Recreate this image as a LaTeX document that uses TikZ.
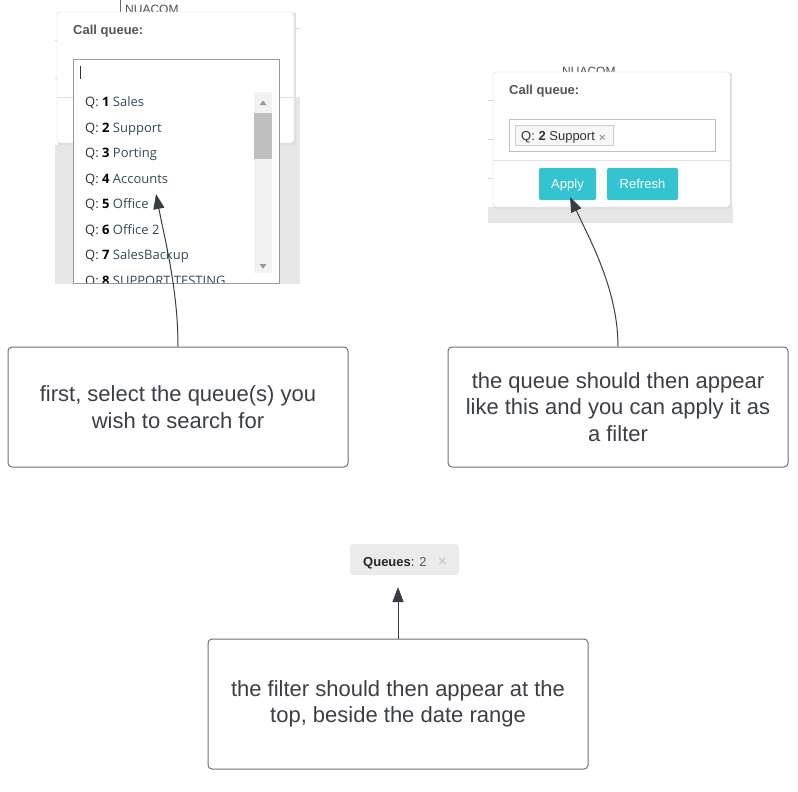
\documentclass[tikz,border=0pt]{standalone}
\usepackage{fontspec}
\setmainfont{Liberation Sans}
\newfontfamily\listfont{Open Sans}
\usetikzlibrary{arrows.meta}
\definecolor{textgrey}{HTML}{3A3F47}
\definecolor{boxline}{HTML}{6B6F75}
\definecolor{arrowgrey}{HTML}{373C46}
\definecolor{shotgrey}{HTML}{E6E6E6}
\definecolor{cardline}{HTML}{CFCFCF}
\definecolor{labelgrey}{HTML}{555555}
\definecolor{itemblue}{HTML}{34495E}
\definecolor{buttonteal}{HTML}{33C3D1}
\definecolor{chipgrey}{HTML}{EBEBEB}

\begin{document}
\begin{tikzpicture}[x=1pt, y=-1pt,
  note/.style={draw=boxline, line width=1pt, rounded corners=4pt, text=textgrey, align=center, font=\fontsize{22}{26.5}\selectfont},
  pointer/.style={draw=arrowgrey, line width=1pt, -{Triangle[length=15pt,width=11pt]}},
  listitem/.style={anchor=base west, inner sep=0pt, font=\listfont\fontsize{13}{15}\selectfont, text=itemblue},
  uitext/.style={anchor=base west, inner sep=0pt, font=\fontsize{13}{15}\selectfont},
  label/.style={uitext, font=\bfseries\fontsize{13}{15}\selectfont, text=labelgrey},
  button/.style={fill=buttonteal, rounded corners=2pt, text=white, font=\fontsize{13}{15}\selectfont, minimum width=57pt, minimum height=32pt, inner sep=0pt, text height=9.3pt, text depth=0pt}]

\useasboundingbox (0,0) rectangle (798,792);

\fill[shotgrey] (55,145) rectangle (300,284);
\fill[shotgrey] (294,97) rectangle (300,145);
\node[uitext, text=black!70, font=\fontsize{12}{14}\selectfont] (nuacomleft) at (125,14) {NUACOM};
\draw[black!60] (120,0) -- (120,12);
\draw[black!15] (55,40) -- (57,40);
\draw[black!15] (55,78) -- (57,78);
\draw[black!15] (294,28) -- (300,28);
\fill[black!12] (58,13) rectangle (296,145);
\draw[cardline, fill=white, rounded corners=3pt] (57,12) rectangle (294,143);
\draw[black!12] (57,97) -- (294,97);
\node[label] (leftlabel) at (73,35) {Call queue:};
\draw[black!40, fill=white] (73,59) rectangle (279,283);
\draw[black!80] (80,66) -- (80,79);
\fill[black!5] (254,92) rectangle (272,273);
\fill[black!25] (254,113) rectangle (272,159);
\fill[black!40] (259.5,105) -- (266.5,105) -- (263,100.5) -- cycle;
\fill[black!40] (259.5,264) -- (266.5,264) -- (263,268.5) -- cycle;
\begin{scope}
\clip (74,60) rectangle (278,282);
\foreach \n/\name in {1/Sales,2/Support,3/Porting,4/Accounts,5/Office,6/Office 2,7/SalesBackup,8/SUPPORT TESTING}
  \node[listitem] (item\n) at (85,{106.5+25.5*(\n-1)}) {\textcolor{black!80}{Q:} \textcolor{black}{\textbf{\n}} \name};
\end{scope}

\fill[shotgrey] (488,207) rectangle (733,223);
\node[uitext, text=black!70, font=\fontsize{12}{14}\selectfont] (nuacomright) at (562,76) {NUACOM};
\draw[black!15] (488,100) -- (493,100);
\draw[black!15] (488,139) -- (493,139);
\draw[black!15] (488,178) -- (493,178);
\fill[black!12] (494,73) rectangle (732,209);
\draw[cardline, fill=white, rounded corners=3pt] (493,72) rectangle (730,207);
\draw[black!12] (493,160) -- (730,160);
\node[label] (rightlabel) at (509,95) {Call queue:};
\draw[black!25] (509,119) rectangle (715,151);
\draw[black!20, fill=black!3] (515,125) rectangle (613,145);
\node[uitext, text=black!80] (chosen) at (521,140) {Q: \textbf{2} Support};
\node[uitext, text=black!40, font=\bfseries\fontsize{11}{12}\selectfont] (chosenx) at (599,141) {×};
\node[button] (apply) at (567.5,184) {Apply};
\node[button, minimum width=71pt] (refresh) at (642.5,184) {Refresh};

\node[fill=chipgrey, rounded corners=3pt, minimum width=109pt, minimum height=31pt, inner sep=0pt] (queueschip) at (404.5,559.5) {};
\node[uitext, text=black!85] (queuestext) at (363,566) {\textbf{Queues}: \textcolor{black!65}{2}};
\node[uitext, text=black!20, font=\bfseries\fontsize{15}{15}\selectfont] (queuesx) at (438,566) {×};

\node[note, minimum width=340pt, minimum height=120pt] (firstnote) at (178,407) {first, select the queue(s) you\\wish to search for};
\node[note, minimum width=340pt, minimum height=120pt] (secondnote) at (618,407) {the queue should then appear\\like this and you can apply it as\\a filter};
\node[note, minimum width=380pt, minimum height=130pt] (thirdnote) at (398,704) {the filter should then appear at the\\top, beside the date range};

\coordinate (listtip) at (156,194);
\coordinate (applytip) at (570,197);
\coordinate (chiptip) at (398,587);

\draw[pointer] (firstnote.north) .. controls (178,290) and (165,240) .. (listtip);
\draw[pointer] (secondnote.north) .. controls (618,290) and (590,240) .. (applytip);
\draw[pointer] (thirdnote.north) -- (chiptip);

\end{tikzpicture}
\end{document}
